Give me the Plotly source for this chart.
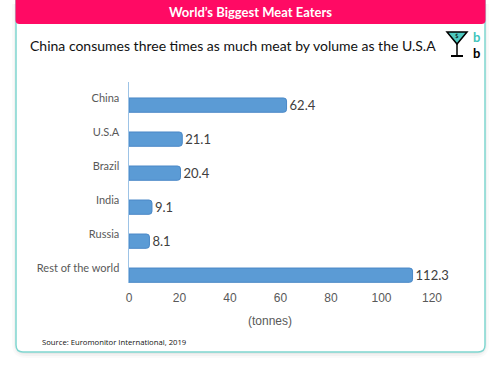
import plotly.graph_objects as go

countries = ["China", "U.S.A", "Brazil", "India", "Russia", "Rest of the world"]
consumption = [62.4, 21.1, 20.4, 9.1, 8.1, 112.3]
x_ticks = [0, 20, 40, 60, 80, 100, 120]

title_text = "World\u2019s Biggest Meat Eaters"
subtitle_text = "China consumes three times as much meat by volume as the U.S.A"
axis_title = "(tonnes)"
source_text = "Source: Euromonitor International, 2019"

W, H = 501, 373
PX0, PX1, PY0, PY1 = 129, 432, 82, 283
L, R, T, B = PX0, W - PX1, PY0, H - PY1
PW, PH = PX1 - PX0, PY1 - PY0


def px(x):
    return (x - PX0) / PW


def py(y):
    return (PY1 - y) / PH


def path_pts(pts):
    return "M " + " L ".join(f"{px(a):.5f},{py(b):.5f}" for a, b in pts) + " Z"


def round_rect(x0, y0, x1, y1, r_top, r_bot):
    p = []
    p.append(f"M {px(x0 + r_top):.5f},{py(y0):.5f}")
    p.append(f"L {px(x1 - r_top):.5f},{py(y0):.5f}")
    if r_top:
        p.append(f"Q {px(x1):.5f},{py(y0):.5f} {px(x1):.5f},{py(y0 + r_top):.5f}")
    p.append(f"L {px(x1):.5f},{py(y1 - r_bot):.5f}")
    if r_bot:
        p.append(f"Q {px(x1):.5f},{py(y1):.5f} {px(x1 - r_bot):.5f},{py(y1):.5f}")
    p.append(f"L {px(x0 + r_bot):.5f},{py(y1):.5f}")
    if r_bot:
        p.append(f"Q {px(x0):.5f},{py(y1):.5f} {px(x0):.5f},{py(y1 - r_bot):.5f}")
    p.append(f"L {px(x0):.5f},{py(y0 + r_top):.5f}")
    if r_top:
        p.append(f"Q {px(x0):.5f},{py(y0):.5f} {px(x0 + r_top):.5f},{py(y0):.5f}")
    p.append("Z")
    return " ".join(p)


fig = go.Figure()
fig.add_trace(go.Bar(
    y=countries,
    x=consumption,
    orientation="h",
    width=0.42,
    offset=0.0,
    marker=dict(color="#5b9bd5", line=dict(color="#4a88c7", width=1), cornerradius=3),
    text=[f"{v:.1f}" for v in consumption],
    textposition="outside",
    constraintext="none",
    textfont=dict(family="Lato, Open Sans, sans-serif", size=13, color="#404040"),
    cliponaxis=False,
    hoverinfo="skip",
))

shapes = []
for i, op in enumerate([0.04, 0.03, 0.02]):
    d = 2 + i * 2
    shapes.append(dict(type="path", xref="paper", yref="paper",
                       path=round_rect(16 - d + 2, 4, 485 + d - 2, 352 + d, 0, 8 + d),
                       fillcolor=f"rgba(0,0,0,{op})", line=dict(width=0), layer="below"))
shapes.append(dict(type="path", xref="paper", yref="paper",
                   path=round_rect(16, 0, 485, 352, 0, 7),
                   fillcolor="white", line=dict(color="#7fd6d0", width=1.5), layer="below"))
shapes.append(dict(type="path", xref="paper", yref="paper",
                   path=round_rect(15.5, -4, 485.5, 24, 0, 4),
                   fillcolor="#ff0a64", line=dict(width=0), layer="below"))
shapes.append(dict(type="path", xref="paper", yref="paper",
                   path=path_pts([(447, 32), (467, 32), (457, 44)]),
                   fillcolor="#4ec9c0", line=dict(color="black", width=1.5), layer="above"))
shapes.append(dict(type="line", xref="paper", yref="paper",
                   x0=px(457), x1=px(457), y0=py(44), y1=py(56),
                   line=dict(color="black", width=1.5)))
shapes.append(dict(type="line", xref="paper", yref="paper",
                   x0=px(451), x1=px(463), y0=py(56), y1=py(56),
                   line=dict(color="black", width=2)))

annotations = [
    dict(text=f"<b>{title_text}</b>", x=px(250), y=py(12), xref="paper", yref="paper",
         showarrow=False, xanchor="center", yanchor="middle",
         font=dict(family="Lato, Open Sans, sans-serif", size=13, color="white")),
    dict(text=subtitle_text, x=px(233), y=py(45), xref="paper", yref="paper",
         showarrow=False, xanchor="center", yanchor="middle",
         font=dict(family="Lato, Open Sans, sans-serif", size=14, color="#111111")),
    dict(text="<b>b</b>", x=px(476), y=py(37), xref="paper", yref="paper",
         showarrow=False, xanchor="center", yanchor="middle",
         font=dict(family="Lato, sans-serif", size=13, color="#3fc4bb")),
    dict(text="<b>b</b>", x=px(476), y=py(53), xref="paper", yref="paper",
         showarrow=False, xanchor="center", yanchor="middle",
         font=dict(family="Lato, sans-serif", size=13, color="black")),
    dict(text="$", x=px(457), y=py(36), xref="paper", yref="paper",
         showarrow=False, xanchor="center", yanchor="middle",
         font=dict(family="Lato, sans-serif", size=6, color="black")),
    dict(text=axis_title, x=px(270), y=py(321), xref="paper", yref="paper",
         showarrow=False, xanchor="center", yanchor="middle",
         font=dict(family="Liberation Sans, Arial, sans-serif", size=12, color="#595959")),
    dict(text=source_text, x=px(40), y=py(342), xref="paper", yref="paper",
         showarrow=False, xanchor="left", yanchor="middle",
         font=dict(family="Open Sans, sans-serif", size=7.7, color="#111111")),
]

fig.update_layout(
    width=W, height=H,
    margin=dict(l=L, r=R, t=T, b=B, pad=0),
    paper_bgcolor="white",
    plot_bgcolor="rgba(0,0,0,0)",
    showlegend=False,
    shapes=shapes,
    annotations=annotations,
    xaxis=dict(range=[0, 120], tickvals=x_ticks, showgrid=False, zeroline=False,
               showline=False, ticks="", ticklabelstandoff=6,
               tickfont=dict(family="Liberation Sans, Arial, sans-serif", size=12, color="#595959"),
               fixedrange=True),
    yaxis=dict(type="category", range=[5.44, -0.47], showgrid=False, zeroline=False,
               showline=True, linecolor="#9dc3e6", linewidth=1.5, ticks="",
               ticklabelstandoff=6,
               tickfont=dict(family="Lato, Open Sans, sans-serif", size=11, color="#595959"),
               fixedrange=True),
)

fig.write_html(
    "out.html",
    config={"displayModeBar": False, "staticPlot": True},
    post_script="document.body.style.margin='0';document.body.style.overflow='hidden';",
)
